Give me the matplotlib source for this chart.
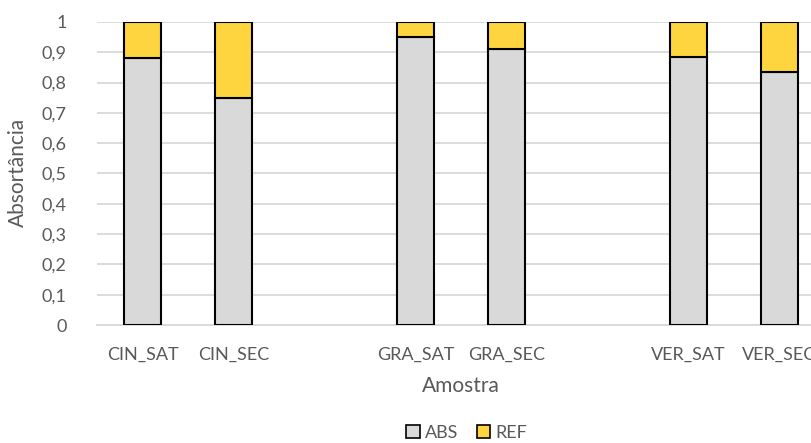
import matplotlib
matplotlib.use("Agg")
import matplotlib.pyplot as plt
from matplotlib.patches import Patch
import numpy as np

categories = ["CIN_SAT", "CIN_SEC", "", "GRA_SAT", "GRA_SEC", "", "VER_SAT", "VER_SEC"]
abs_values = [0.882, 0.750, np.nan, 0.950, 0.910, np.nan, 0.883, 0.835]
ref_values = [1 - v if not np.isnan(v) else np.nan for v in abs_values]
y_ticks = [0, 0.1, 0.2, 0.3, 0.4, 0.5, 0.6, 0.7, 0.8, 0.9, 1.0]
y_tick_labels = ["0", "0,1", "0,2", "0,3", "0,4", "0,5", "0,6", "0,7", "0,8", "0,9", "1"]

plt.rcParams["font.family"] = ["Lato", "DejaVu Sans"]
text_color = "#595959"
grid_color = "#d9d9d9"
abs_color = "#d9d9d9"
ref_color = "#ffd53f"

fig = plt.figure(figsize=(8.12, 4.43), dpi=100)
W, H = 812, 443
left, right, top, bottom = 97, 825, 22, 325
ax = fig.add_axes([left / W, 1 - bottom / H, (right - left) / W, (bottom - top) / H])
ax.set_clip_on(False)

x = np.arange(len(categories))
abs_arr = np.array(abs_values)
ref_arr = np.array(ref_values)
mask = ~np.isnan(abs_arr)

ax.bar(x[mask], abs_arr[mask], width=0.4, color=abs_color, edgecolor="black",
       linewidth=1.5, label="ABS", zorder=3)
ax.bar(x[mask], ref_arr[mask], bottom=abs_arr[mask], width=0.4, color=ref_color,
       edgecolor="black", linewidth=1.5, label="REF", zorder=3)

ax.set_xlim(-0.5, len(categories) - 0.5)
ax.set_ylim(0, 1)
ax.set_yticks(y_ticks)
ax.set_yticklabels(y_tick_labels)
ax.set_xticks(x[mask])
ax.set_xticklabels([c for c, m in zip(categories, mask) if m])

ax.tick_params(axis="both", length=0, labelsize=13, colors=text_color)
ax.tick_params(axis="y", pad=22)
ax.tick_params(axis="x", pad=16)
for lab in ax.get_xticklabels() + ax.get_yticklabels():
    lab.set_color(text_color)

ax.grid(axis="y", color=grid_color, linewidth=1.3, zorder=0)
ax.set_axisbelow(True)
for side in ["top", "right", "left"]:
    ax.spines[side].set_visible(False)
ax.spines["bottom"].set_color(grid_color)
ax.spines["bottom"].set_linewidth(1.3)
ax.spines["bottom"].set_zorder(1)

fig.text(18 / W, 1 - 172 / H, "Absortância", rotation=90, ha="center", va="center",
         fontsize=15, color=text_color)
fig.text(461 / W, 1 - 386 / H, "Amostra", ha="center", va="center",
         fontsize=15, color=text_color)

handles = [Patch(facecolor=abs_color, edgecolor="black", linewidth=1.2, label="ABS"),
           Patch(facecolor=ref_color, edgecolor="black", linewidth=1.2, label="REF")]
fig.legend(handles=handles, loc="center", bbox_to_anchor=(467 / W, 1 - 433 / H),
           ncol=2, frameon=False, fontsize=13, labelcolor=text_color,
           handlelength=0.75, handleheight=0.75, handletextpad=0.3, columnspacing=1.0,
           borderaxespad=0, borderpad=0)

fig.savefig("out.png", dpi=100)
